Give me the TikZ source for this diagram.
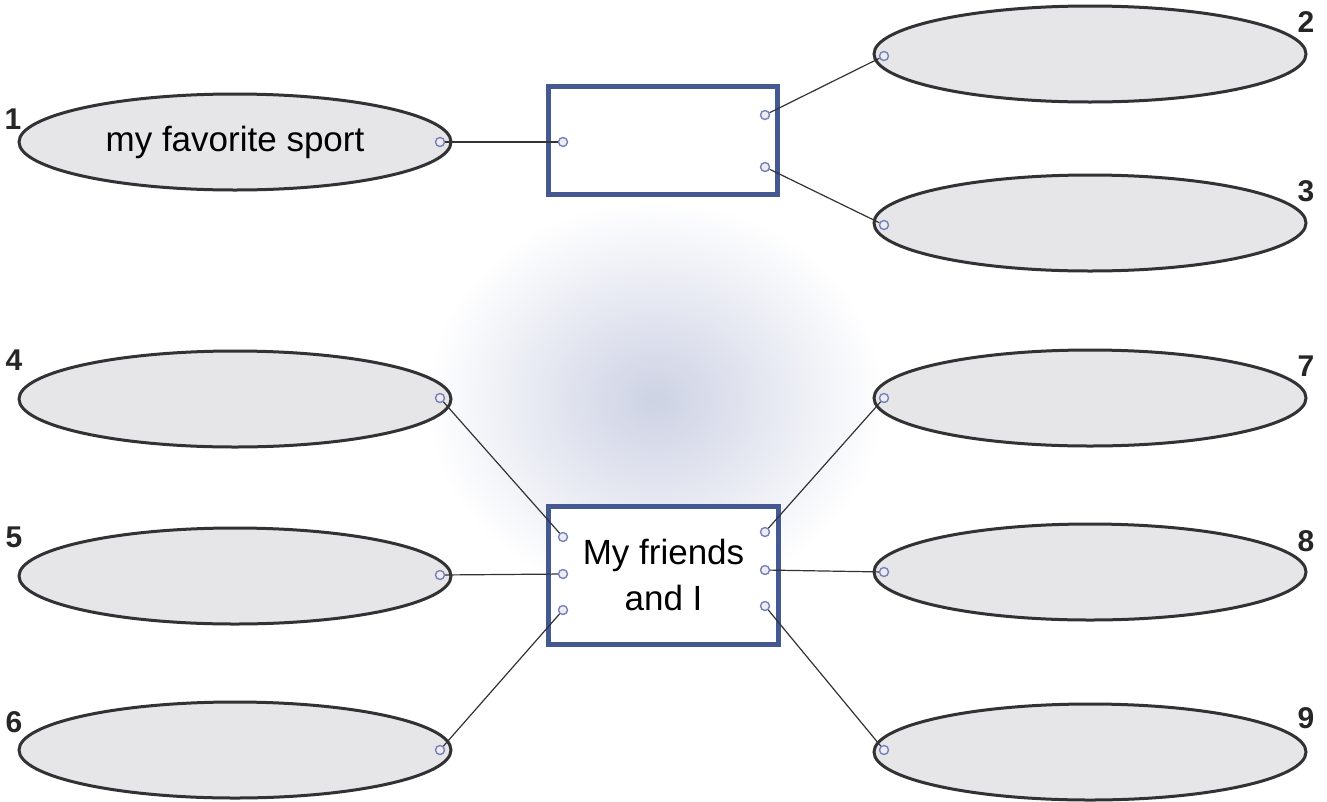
\documentclass[tikz,border=0pt]{standalone}
\usepackage{fontspec}
\setmainfont{Liberation Sans}
\usetikzlibrary{shapes.geometric}
\definecolor{ellfill}{RGB}{230,230,233}
\definecolor{ellline}{RGB}{50,50,52}
\definecolor{boxline}{RGB}{68,88,145}
\definecolor{dotline}{RGB}{120,130,182}
\definecolor{glow}{RGB}{205,210,228}
\tikzset{
  oval/.style={ellipse, draw=ellline, line width=3pt, fill=ellfill, minimum width=432pt, minimum height=96pt, inner sep=0pt, font=\fontsize{35}{42}\selectfont},
  hub/.style={rectangle, draw=boxline, line width=5pt, fill=white, inner sep=0pt, align=center, font=\fontsize{35}{46}\selectfont},
  port/.style={circle, draw=dotline, line width=1.4pt, fill=white!85!dotline, minimum size=9pt, inner sep=0pt},
  num/.style={font=\fontsize{30}{30}\selectfont\bfseries, text=black!85, inner sep=0pt},
  link/.style={draw=black!80, line width=1.2pt}
}
\begin{document}
\begin{tikzpicture}[x=1pt,y=-1pt]
\useasboundingbox (0,0) rectangle (1327,801);
\fill[white] (0,0) rectangle (1327,801);
\shade[inner color=glow, outer color=white] (655,400) ellipse [x radius=230, y radius=200];

% ellipses
\node[oval] (e1) at (235,142) {my favorite sport};
\node[oval] (e2) at (1090,54) {};
\node[oval] (e3) at (1090,223) {};
\node[oval] (e4) at (235,399) {};
\node[oval] (e5) at (235,576) {};
\node[oval] (e6) at (235,750) {};
\node[oval] (e7) at (1090,398) {};
\node[oval] (e8) at (1090,572) {};
\node[oval] (e9) at (1090,752) {};

% boxes
\node[hub, minimum width=229pt, minimum height=108pt] (b1) at (662.5,140) {};
\node[hub, minimum width=230pt, minimum height=138pt] (b2) at (663.5,575) {My friends\\and I};

% numbers
\node[num] (n1) at (13,119) {1};
\node[num] (n2) at (1306,22) {2};
\node[num] (n3) at (1306,191) {3};
\node[num] (n4) at (14,360) {4};
\node[num] (n5) at (14,537) {5};
\node[num] (n6) at (14,722) {6};
\node[num] (n7) at (1306,366) {7};
\node[num] (n8) at (1306,541) {8};
\node[num] (n9) at (1306,718) {9};

% ports
\node[port] (p1) at (440,142) {};
\node[port] (q1l) at (563,142) {};
\node[port] (q1a) at (765,115) {};
\node[port] (q1b) at (765,167) {};
\node[port] (p2) at (884,56) {};
\node[port] (p3) at (884,225) {};

\node[port] (p4) at (440,398) {};
\node[port] (p5) at (440,575) {};
\node[port] (p6) at (440,750) {};
\node[port] (q2a) at (563,537) {};
\node[port] (q2b) at (563,574) {};
\node[port] (q2c) at (563,610) {};
\node[port] (q2d) at (765,532) {};
\node[port] (q2e) at (765,570) {};
\node[port] (q2f) at (765,606) {};
\node[port] (p7) at (884,398) {};
\node[port] (p8) at (884,572) {};
\node[port] (p9) at (884,750) {};

% connectors
\draw[link] (p1) -- (q1l);
\draw[link] (q1a) -- (p2);
\draw[link] (q1b) -- (p3);
\draw[link] (p4) -- (q2a);
\draw[link] (p5) -- (q2b);
\draw[link] (p6) -- (q2c);
\draw[link] (q2d) -- (p7);
\draw[link] (q2e) -- (p8);
\draw[link] (q2f) -- (p9);
\end{tikzpicture}
\end{document}
